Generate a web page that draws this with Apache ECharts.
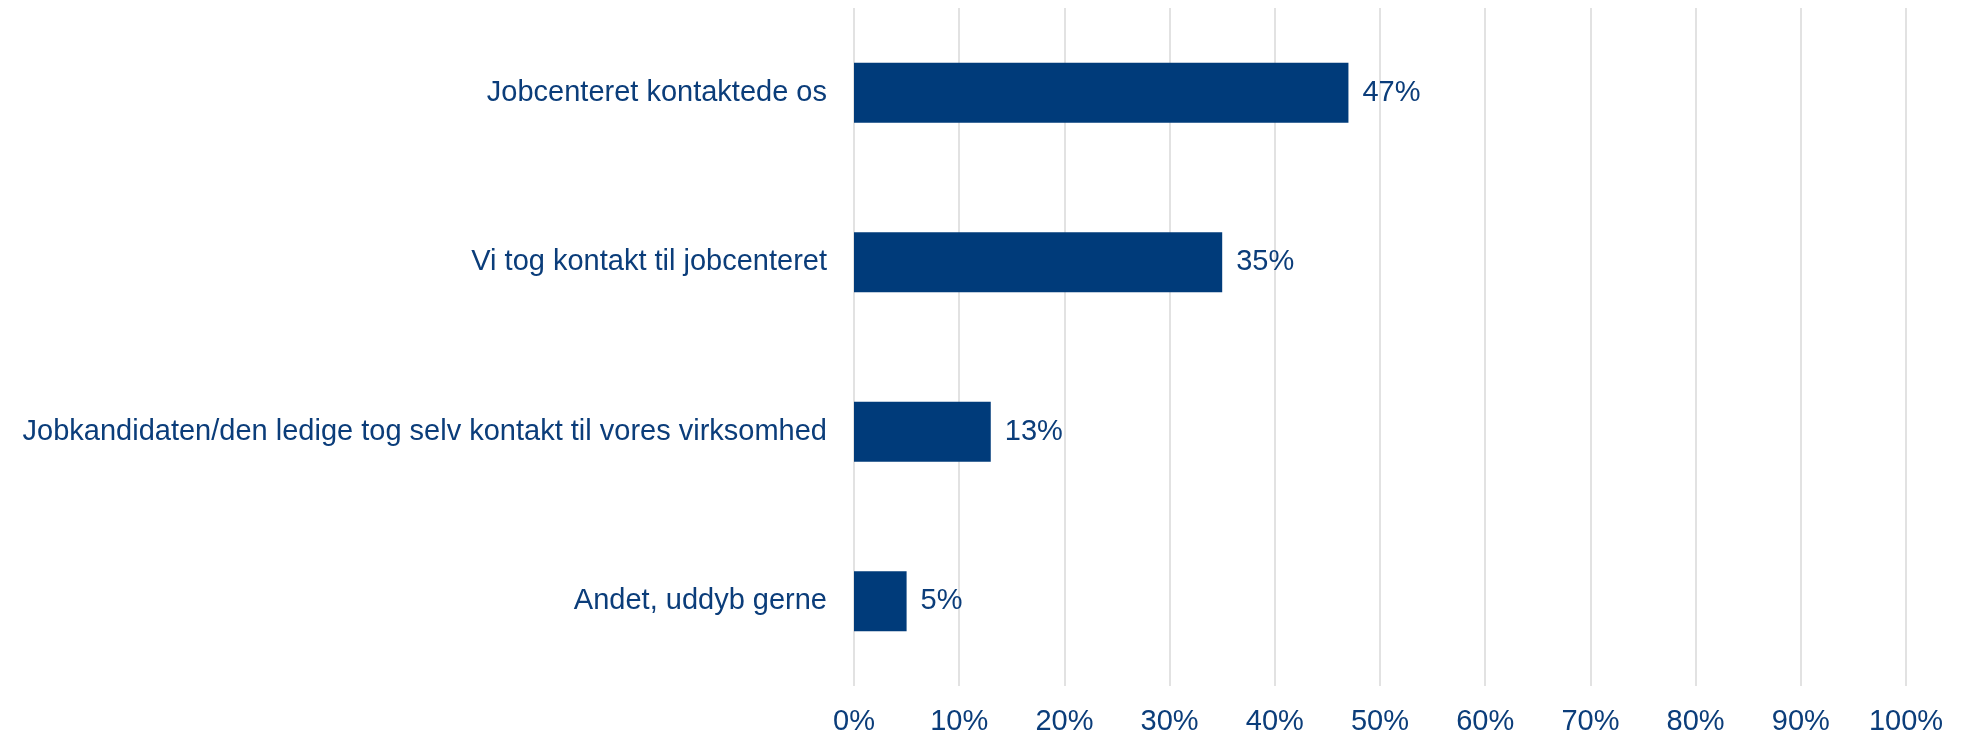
<!DOCTYPE html>
<html>
<head>
<meta charset="utf-8">
<script src="https://cdn.jsdelivr.net/npm/echarts@6/dist/echarts.min.js"></script>
<style>
  html, body { margin: 0; padding: 0; background: #fff; }
  #main { width: 1965px; height: 736px; }
</style>
</head>
<body>
<div id="main"></div>
<script>
var categories = [
  'Jobcenteret kontaktede os',
  'Vi tog kontakt til jobcenteret',
  'Jobkandidaten/den ledige tog selv kontakt til vores virksomhed',
  'Andet, uddyb gerne'
];
var values = [47, 35, 13, 5];
var tickValues = [0, 10, 20, 30, 40, 50, 60, 70, 80, 90, 100];

var textColor = '#0b3d7a';
var barColor = '#003b7a';
var font = 'Liberation Sans';

var chart = echarts.init(document.getElementById('main'));
var option = {
  animation: false,
  grid: {
    left: 854,
    right: 59,
    top: 8,
    bottom: 50,
    containLabel: false
  },
  xAxis: {
    type: 'value',
    min: tickValues[0],
    max: tickValues[tickValues.length - 1],
    interval: 10,
    axisLine: { show: false },
    axisTick: { show: false },
    splitLine: { show: true, lineStyle: { color: '#d9d9d9', width: 1.5 } },
    axisLabel: {
      formatter: '{value}%',
      color: textColor,
      fontFamily: font,
      fontSize: 29,
      margin: 21
    }
  },
  yAxis: {
    type: 'category',
    data: categories,
    inverse: true,
    axisLine: { show: false },
    axisTick: { show: false },
    axisLabel: {
      color: textColor,
      fontFamily: font,
      fontSize: 29,
      margin: 27
    }
  },
  series: [{
    type: 'bar',
    data: values,
    barWidth: 60,
    itemStyle: { color: barColor },
    label: {
      show: true,
      position: 'right',
      distance: 14,
      formatter: '{c}%',
      color: textColor,
      fontFamily: font,
      fontSize: 29
    }
  }]
};
chart.setOption(option);
</script>
</body>
</html>
